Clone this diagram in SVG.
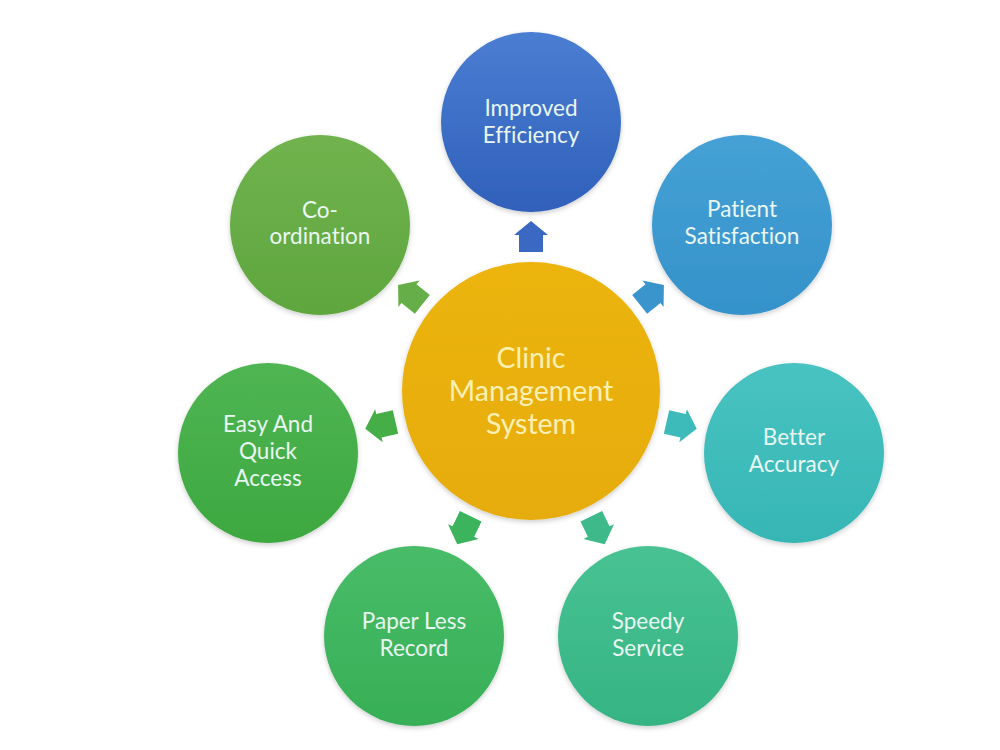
<svg xmlns="http://www.w3.org/2000/svg" width="1000" height="750" viewBox="0 0 1000 750">
  <defs>
    <style>
      .lbl { font-family: Lato, "Noto Sans", "Liberation Sans", sans-serif; font-size: 22.5px; fill: #EAF6F2; text-anchor: middle; font-variant-ligatures: none; }
      .ctr { font-family: Lato, "Noto Sans", "Liberation Sans", sans-serif; font-size: 28.5px; fill: #FBF0B4; text-anchor: middle; font-variant-ligatures: none; }
    </style>
    <filter id="sh" x="-20%" y="-20%" width="140%" height="140%">
      <feDropShadow dx="0" dy="2" stdDeviation="2.5" flood-color="#000" flood-opacity="0.2"/>
    </filter>
    <linearGradient id="gBlue" x1="0" y1="0" x2="0" y2="1"><stop offset="0" stop-color="#4A7ED2"/><stop offset="1" stop-color="#3060BA"/></linearGradient>
    <linearGradient id="gSky" x1="0" y1="0" x2="0" y2="1"><stop offset="0" stop-color="#45A1D5"/><stop offset="1" stop-color="#3592CA"/></linearGradient>
    <linearGradient id="gTeal" x1="0" y1="0" x2="0" y2="1"><stop offset="0" stop-color="#48C3C1"/><stop offset="1" stop-color="#36B6B5"/></linearGradient>
    <linearGradient id="gSea" x1="0" y1="0" x2="0" y2="1"><stop offset="0" stop-color="#48C293"/><stop offset="1" stop-color="#36B483"/></linearGradient>
    <linearGradient id="gGreen" x1="0" y1="0" x2="0" y2="1"><stop offset="0" stop-color="#49BC69"/><stop offset="1" stop-color="#37AF56"/></linearGradient>
    <linearGradient id="gLeaf" x1="0" y1="0" x2="0" y2="1"><stop offset="0" stop-color="#4FB552"/><stop offset="1" stop-color="#3DA840"/></linearGradient>
    <linearGradient id="gLime" x1="0" y1="0" x2="0" y2="1"><stop offset="0" stop-color="#70B34E"/><stop offset="1" stop-color="#5FA63E"/></linearGradient>
    <linearGradient id="gGold" x1="0" y1="0" x2="0" y2="1"><stop offset="0" stop-color="#ECB40D"/><stop offset="1" stop-color="#E6AC0A"/></linearGradient>
    <path id="arr" d="M0,-12 L17,-12 L17,-17 L31,0 L17,17 L17,12 L0,12 Z"/>
  </defs>
  <rect width="1000" height="750" fill="#FFFFFF"/>

  <g id="connectors">
    <use href="#arr" fill="#3A68C2" transform="translate(531,391) rotate(-90) translate(139,0)"/>
    <use href="#arr" fill="#3B95CD" transform="translate(531,391) rotate(-38.57) translate(139,0)"/>
    <use href="#arr" fill="#3DBABA" transform="translate(531,391) rotate(12.86) translate(139,0)"/>
    <use href="#arr" fill="#3DB98A" transform="translate(531,391) rotate(64.29) translate(139,0)"/>
    <use href="#arr" fill="#3CB45E" transform="translate(531,391) rotate(115.71) translate(139,0)"/>
    <use href="#arr" fill="#45AE47" transform="translate(531,391) rotate(167.14) translate(139,0)"/>
    <use href="#arr" fill="#66AE47" transform="translate(531,391) rotate(218.57) translate(139,0)"/>
  </g>

  <g id="center">
    <circle cx="531" cy="391" r="129" fill="url(#gGold)" filter="url(#sh)"/>
    <text class="ctr" x="531" y="368">Clinic</text>
    <text class="ctr" x="531" y="401">Management</text>
    <text class="ctr" x="531" y="434">System</text>
  </g>

  <g id="improved-efficiency">
    <circle cx="531" cy="122" r="90" fill="url(#gBlue)" filter="url(#sh)"/>
    <text class="lbl" x="531" y="116">Improved</text>
    <text class="lbl" x="531" y="143">Efficiency</text>
  </g>

  <g id="patient-satisfaction">
    <circle cx="742" cy="225" r="90" fill="url(#gSky)" filter="url(#sh)"/>
    <text class="lbl" x="742" y="217">Patient</text>
    <text class="lbl" x="742" y="244">Satisfaction</text>
  </g>

  <g id="better-accuracy">
    <circle cx="794" cy="453" r="90" fill="url(#gTeal)" filter="url(#sh)"/>
    <text class="lbl" x="794" y="445">Better</text>
    <text class="lbl" x="794" y="472">Accuracy</text>
  </g>

  <g id="speedy-service">
    <circle cx="648" cy="636" r="90" fill="url(#gSea)" filter="url(#sh)"/>
    <text class="lbl" x="648" y="629">Speedy</text>
    <text class="lbl" x="648" y="656">Service</text>
  </g>

  <g id="paper-less-record">
    <circle cx="414" cy="636" r="90" fill="url(#gGreen)" filter="url(#sh)"/>
    <text class="lbl" x="414" y="629">Paper Less</text>
    <text class="lbl" x="414" y="656">Record</text>
  </g>

  <g id="easy-and-quick-access">
    <circle cx="268" cy="453" r="90" fill="url(#gLeaf)" filter="url(#sh)"/>
    <text class="lbl" x="268" y="432">Easy And</text>
    <text class="lbl" x="268" y="459">Quick</text>
    <text class="lbl" x="268" y="486">Access</text>
  </g>

  <g id="co-ordination">
    <circle cx="320" cy="225" r="90" fill="url(#gLime)" filter="url(#sh)"/>
    <text class="lbl" x="320" y="218">Co-</text>
    <text class="lbl" x="320" y="244">ordination</text>
  </g>
</svg>
